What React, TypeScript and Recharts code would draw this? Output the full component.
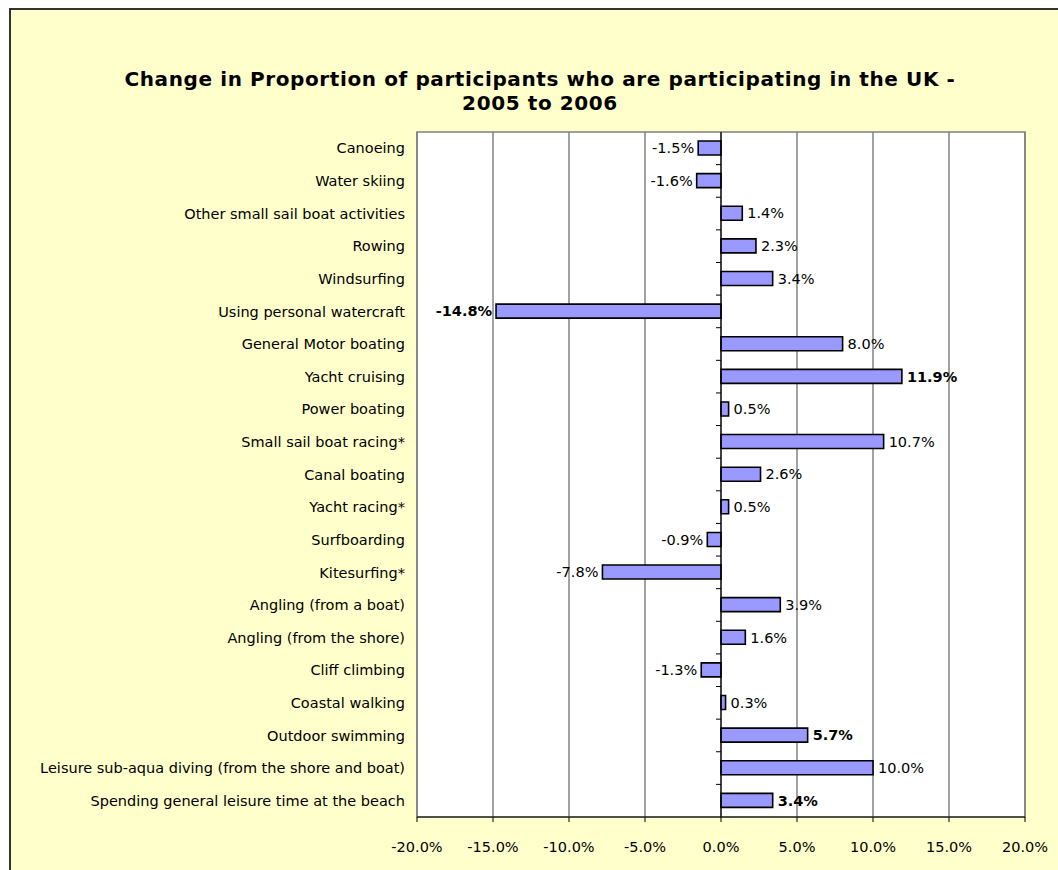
import React from "react";
import {
  BarChart,
  Bar,
  XAxis,
  YAxis,
  CartesianGrid,
  ReferenceLine,
  ReferenceArea,
  LabelList,
} from "recharts";

const categories = [
  "Canoeing",
  "Water skiing",
  "Other small sail boat activities",
  "Rowing",
  "Windsurfing",
  "Using personal watercraft",
  "General Motor boating",
  "Yacht cruising",
  "Power boating",
  "Small sail boat racing*",
  "Canal boating",
  "Yacht racing*",
  "Surfboarding",
  "Kitesurfing*",
  "Angling (from a boat)",
  "Angling (from the shore)",
  "Cliff climbing",
  "Coastal walking",
  "Outdoor swimming",
  "Leisure sub-aqua diving (from the shore and boat)",
  "Spending general leisure time at the beach",
];

const changeValues = [
  -0.015, -0.016, 0.014, 0.023, 0.034, -0.148, 0.08, 0.119, 0.005, 0.107, 0.026,
  0.005, -0.009, -0.078, 0.039, 0.016, -0.013, 0.003, 0.057, 0.1, 0.034,
];

const boldLabels = [
  false, false, false, false, false, true, false, true, false, false, false,
  false, false, false, false, false, false, false, true, false, true,
];

const xTicks = [-0.2, -0.15, -0.1, -0.05, 0, 0.05, 0.1, 0.15, 0.2];

const data = categories.map((name, i) => ({
  name,
  value: changeValues[i],
  bold: boldLabels[i],
}));

const FONT = "'DejaVu Sans', Verdana, sans-serif";
const FS = 14.5;

const pct = (v: number) => `${(v * 100).toFixed(1)}%`;

const ValueLabel = (props: any) => {
  const { x, y, width, height, index } = props;
  const v = changeValues[index];
  const left = Math.min(x, x + width);
  const right = Math.max(x, x + width);
  const neg = v < 0;
  return (
    <text
      x={neg ? left - 4 : right + 5}
      y={y + height / 2}
      dy="0.36em"
      textAnchor={neg ? "end" : "start"}
      fontFamily={FONT}
      fontSize={FS}
      fontWeight={boldLabels[index] ? "bold" : "normal"}
      fill="#000"
    >
      {pct(v)}
    </text>
  );
};

const ZeroAxis = (props: any) => {
  const { x1, y1, x2, y2 } = props;
  if (x1 == null || y1 == null) return null;
  const top = Math.min(y1, y2);
  const bottom = Math.max(y1, y2);
  const n = categories.length;
  const step = (bottom - top) / n;
  const ticks = [];
  for (let k = 1; k < n; k++) {
    const yy = top + k * step;
    ticks.push(
      <line key={k} x1={x1 - 5} x2={x1} y1={yy} y2={yy} stroke="#000" strokeWidth={1} />
    );
  }
  return (
    <g>
      <line x1={x1} x2={x2} y1={top} y2={bottom} stroke="#000" strokeWidth={1.2} />
      {ticks}
    </g>
  );
};

export default function App() {
  return (
    <div
      style={{
        position: "absolute",
        left: 0,
        top: 0,
        width: 1058,
        height: 870,
        overflow: "hidden",
        background: "#fff",
      }}
    >
      <div
        style={{
          position: "absolute",
          left: 9,
          top: 8,
          width: 1080,
          height: 900,
          background: "#FFFFCC",
          border: "2px solid #333",
          boxSizing: "border-box",
        }}
      />
      <div
        style={{
          position: "absolute",
          left: 10,
          top: 67,
          width: 1060,
          textAlign: "center",
          fontFamily: FONT,
          fontWeight: "bold",
          fontSize: 20,
          letterSpacing: 0.6,
          lineHeight: "24px",
          color: "#000",
        }}
      >
        Change in Proportion of participants who are participating in the UK -
        <br />
        2005 to 2006
      </div>
      <div style={{ position: "absolute", left: 0, top: 0 }}>
        <BarChart
          width={1058}
          height={870}
          data={data}
          layout="vertical"
          margin={{ top: 132, right: 33, bottom: 23, left: 10 }}
        >
          <CartesianGrid
            horizontal={false}
            vertical={true}
            stroke="#444"
            fill="#fff"
            fillOpacity={1}
          />
          <ReferenceArea
            x1={-0.2}
            x2={0.2}
            fill="none"
            stroke="#808080"
            strokeWidth={1.5}
            ifOverflow="visible"
          />
          <XAxis
            type="number"
            domain={[-0.2, 0.2]}
            ticks={xTicks}
            tickFormatter={pct}
            height={30}
            stroke="#000"
            tickSize={5}
            tickMargin={20}
            tick={{ fontFamily: FONT, fontSize: FS, fill: "#000" }}
            axisLine={{ stroke: "#000", strokeWidth: 1.2 }}
            tickLine={{ stroke: "#000" }}
          />
          <YAxis
            type="category"
            dataKey="name"
            width={407}
            axisLine={false}
            tickLine={false}
            tickSize={0}
            tickMargin={12}
            interval={0}
            tick={{ fontFamily: FONT, fontSize: FS, fill: "#000" }}
          />
          <ReferenceLine x={0} shape={ZeroAxis} ifOverflow="visible" />
          <Bar
            dataKey="value"
            fill="#9999FF"
            stroke="#000"
            strokeWidth={1.6}
            barSize={14}
            isAnimationActive={false}
          >
            <LabelList dataKey="value" content={ValueLabel} />
          </Bar>
        </BarChart>
      </div>
    </div>
  );
}
